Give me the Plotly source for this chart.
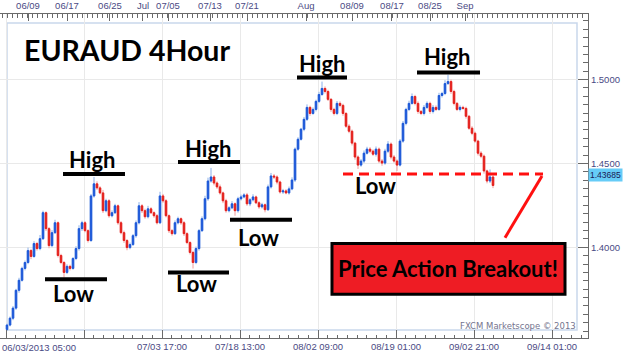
import plotly.graph_objects as go

# ---------------- data ----------------
first_open = 1.3510
closes = [
    1.3536, 1.3577, 1.3637, 1.3743, 1.3803, 1.3874, 1.3909, 1.3980, 1.3945, 1.4022,
    1.3992, 1.4051, 1.4206, 1.4111, 1.4010, 1.4087, 1.4146, 1.3951, 1.3909, 1.3850,
    1.3886, 1.3874, 1.3933, 1.3992, 1.4111, 1.4146, 1.4099, 1.4040, 1.4306, 1.4378,
    1.4354, 1.4324, 1.4218, 1.4277, 1.4188, 1.4206, 1.4247, 1.4146, 1.4087, 1.4040,
    1.3998, 1.4016, 1.4069, 1.4146, 1.4247, 1.4218, 1.4182, 1.4229, 1.4206, 1.4188,
    1.4146, 1.4306, 1.4277, 1.4188, 1.4099, 1.4081, 1.4146, 1.4170, 1.4146, 1.4081,
    1.4028, 1.3969, 1.3909, 1.3992, 1.4099, 1.4170, 1.4289, 1.4395, 1.4419, 1.4383,
    1.4360, 1.4324, 1.4277, 1.4218, 1.4235, 1.4259, 1.4218, 1.4289, 1.4300, 1.4312,
    1.4259, 1.4283, 1.4300, 1.4265, 1.4241, 1.4253, 1.4224, 1.4360, 1.4425, 1.4419,
    1.4389, 1.4330, 1.4336, 1.4324, 1.4348, 1.4401, 1.4585, 1.4644, 1.4704, 1.4763,
    1.4834, 1.4798, 1.4822, 1.4870, 1.4911, 1.4947, 1.4929, 1.4882, 1.4822, 1.4798,
    1.4858, 1.4846, 1.4798, 1.4722, 1.4692, 1.4621, 1.4538, 1.4490, 1.4514, 1.4561,
    1.4585, 1.4573, 1.4555, 1.4585, 1.4514, 1.4502, 1.4573, 1.4615, 1.4538, 1.4514,
    1.4490, 1.4633, 1.4739, 1.4822, 1.4858, 1.4899, 1.4858, 1.4810, 1.4798, 1.4834,
    1.4858, 1.4810, 1.4834, 1.4822, 1.4905, 1.4917, 1.4976, 1.4988, 1.4929, 1.4858,
    1.4822, 1.4834, 1.4828, 1.4781, 1.4710, 1.4680, 1.4633, 1.4561, 1.4543, 1.4455,
    1.4395, 1.4419, 1.43685,
]
# upper / lower wick lengths in pips
wick_up_pips = [
    8, 10, 12, 9, 15, 10, 12, 18, 10, 14,
    10, 22, 12, 8, 10, 15, 18, 8, 10, 9,
    12, 10, 8, 14, 20, 12, 10, 8, 12, 41,
    15, 10, 18, 12, 10, 14, 12, 8, 10, 12,
    9, 12, 10, 14, 22, 10, 12, 18, 10, 8,
    10, 25, 12, 10, 8, 10, 14, 12, 8, 10,
    9, 8, 10, 12, 10, 14, 18, 20, 54, 12,
    10, 14, 8, 12, 10, 16, 8, 12, 14, 10,
    12, 10, 16, 8, 10, 12, 8, 14, 18, 12,
    10, 8, 12, 10, 14, 16, 10, 12, 8, 14,
    18, 10, 12, 10, 16, 41, 12, 10, 8, 10,
    14, 12, 10, 8, 12, 10, 8, 10, 12, 16,
    14, 12, 10, 16, 10, 12, 14, 18, 10, 12,
    10, 12, 14, 10, 16, 18, 10, 12, 8, 14,
    12, 10, 14, 12, 16, 10, 20, 41, 12, 10,
    8, 12, 10, 10, 8, 12, 10, 8, 12, 10,
    8, 45, 10,
]
wick_down_pips = [
    10, 8, 12, 10, 14, 8, 12, 10, 16, 8,
    12, 10, 8, 14, 16, 10, 8, 12, 10, 30,
    10, 12, 8, 10, 12, 14, 10, 12, 8, 10,
    12, 8, 14, 10, 12, 10, 8, 12, 10, 14,
    16, 10, 8, 12, 10, 14, 12, 10, 8, 12,
    10, 8, 12, 10, 14, 12, 8, 10, 12, 14,
    10, 12, 36, 10, 12, 8, 10, 12, 10, 14,
    12, 10, 14, 12, 10, 8, 30, 12, 10, 8,
    12, 14, 10, 8, 12, 10, 16, 8, 10, 12,
    14, 10, 12, 8, 10, 8, 12, 10, 8, 12,
    10, 14, 8, 12, 10, 8, 12, 10, 14, 12,
    10, 12, 14, 10, 12, 14, 16, 23, 10, 12,
    8, 12, 10, 14, 12, 16, 10, 12, 14, 10,
    35, 8, 10, 12, 10, 8, 12, 14, 10, 12,
    10, 14, 12, 10, 8, 12, 10, 8, 14, 12,
    10, 12, 8, 14, 10, 12, 10, 14, 12, 16,
    14, 12, 16,
]
last_price = 1.43685

bottom_tick_labels = ["", "", "07/03 17:00", "07/18 13:00", "08/02 09:00",
                      "08/19 01:00", "09/02 21:00", "09/14 01:00"]
first_bottom_label = "06/03/2013 05:00"
top_tick_labels = ["06/09", "06/17", "06/25", "Jul", "07/05", "07/13", "07/21",
                   "Aug", "08/09", "08/17", "08/25", "Sep"]
top_tick_pos = [7, 20, 34.33, 45.33, 53.67, 67.67, 80, 99.67, 115, 128.33, 141, 152.67]
price_ticks = [1.40, 1.45, 1.50]

# ---------------- build OHLC ----------------
n = min(len(closes), len(wick_up_pips), len(wick_down_pips))
closes = closes[:n]
idx = list(range(n))
opens = [first_open] + closes[:-1]
body_hi = [max(o, c) for o, c in zip(opens, closes)]
body_lo = [min(o, c) for o, c in zip(opens, closes)]
highs = [h + u * 0.0001 for h, u in zip(body_hi, wick_up_pips[:n])]
lows = [l - d * 0.0001 for l, d in zip(body_lo, wick_down_pips[:n])]

BLUE = "#1d58d8"
RED = "#e4201c"
LBLUE = "#8ab0ea"
LRED = "#f29c9c"

fig = go.Figure()
fig.add_trace(go.Candlestick(
    x=idx, open=opens, high=highs, low=lows, close=closes,
    increasing=dict(line=dict(color=LBLUE, width=1), fillcolor=LBLUE),
    decreasing=dict(line=dict(color=LRED, width=1), fillcolor=LRED),
    whiskerwidth=0, showlegend=False, hoverinfo="skip"))
fig.add_trace(go.Candlestick(
    x=idx, open=opens, high=body_hi, low=body_lo, close=closes,
    increasing=dict(line=dict(color=BLUE, width=1), fillcolor=BLUE),
    decreasing=dict(line=dict(color=RED, width=1), fillcolor=RED),
    whiskerwidth=0, showlegend=False, hoverinfo="skip"))
fig.add_trace(go.Scatter(x=[0], y=[1.40], xaxis="x2", yaxis="y", mode="markers",
                         marker=dict(opacity=0), showlegend=False, hoverinfo="skip"))

xr = [-7 / 3, 581 / 3]
major_x = [-1 / 3 + 26 * i for i in range(8)]
tickfont = dict(family="Liberation Sans, Arial", size=9.5, color="#4a4a84")
AX = "#6a6a6a"

fig.update_layout(
    width=623, height=352,
    margin=dict(l=0, r=35, t=12, b=14),
    paper_bgcolor="white", plot_bgcolor="white",
    showlegend=False,
    xaxis=dict(range=xr, tickmode="array", tickvals=major_x, ticktext=bottom_tick_labels,
               ticks="inside", ticklen=8, tickcolor=AX, showline=True, linecolor=AX,
               linewidth=1, showgrid=True, gridcolor="#e9e9e9", zeroline=False,
               tickfont=tickfont, rangeslider=dict(visible=False), fixedrange=True,
               minor=dict(tickmode="linear", tick0=-1 / 3, dtick=26 / 8, ticks="inside",
                          ticklen=3, tickcolor=AX, showgrid=False)),
    xaxis2=dict(range=xr, overlaying="x", side="top", anchor="y", tickmode="array",
                tickvals=top_tick_pos, ticktext=top_tick_labels, ticks="inside",
                ticklen=7, tickcolor=AX, showline=True, linecolor=AX, linewidth=1,
                showgrid=False, zeroline=False, tickfont=tickfont, fixedrange=True,
                minor=dict(tickmode="linear", tick0=0, dtick=5 / 3, ticks="inside",
                           ticklen=4, tickcolor=AX, showgrid=False)),
    yaxis=dict(range=[1.34588, 1.5391], side="right", tickmode="array",
               tickvals=price_ticks, ticktext=[f"{v:.4f}" for v in price_ticks],
               ticks="inside", ticklen=10, tickcolor=AX, showline=True, linecolor=AX,
               linewidth=1, showgrid=True, gridcolor="#e9e9e9", zeroline=False,
               tickfont=tickfont, fixedrange=True,
               minor=dict(tickmode="linear", tick0=1.40, dtick=0.005, ticks="inside",
                          ticklen=5, tickcolor=AX, showgrid=False)),
)

shapes = []
# inner light-blue frame
shapes.append(dict(type="rect", xref="paper", yref="paper",
                   x0=7 / 588, x1=577 / 588, y0=8 / 326, y1=317 / 326,
                   line=dict(color="#c9d7ec", width=1.5), layer="below"))

def hline(x0, x1, y, color="black", width=4, dash=None):
    d = dict(type="line", xref="x", yref="y", x0=x0, x1=x1, y0=y, y1=y,
             line=dict(color=color, width=width), layer="above")
    if dash:
        d["line"]["dash"] = dash
    shapes.append(d)

# High lines
hline(18.67, 39.33, 1.4437)
hline(57.0, 77.67, 1.4508)
hline(96.67, 113.33, 1.5012)
hline(136.67, 157.67, 1.5042)
# Low lines
hline(12.67, 33.33, 1.3809)
hline(53.67, 74.0, 1.3850)
hline(74.33, 95.0, 1.4164)
# red dashed support line
hline(112.0, 178.67, 1.4437, color="#ff1010", width=3, dash="10px,6px")
# red diagonal
shapes.append(dict(type="line", xref="x", yref="y", x0=166.0, y0=1.4057, x1=178.33,
                   y1=1.4425, line=dict(color="#ff1010", width=3), layer="above"))
# red box
shapes.append(dict(type="rect", xref="x", yref="y", x0=108.33, x1=186.0, y0=1.3720,
                   y1=1.4022, fillcolor="#ee1c24", line=dict(color="black", width=3),
                   layer="above"))
fig.update_layout(shapes=shapes)

BIG = dict(family="Lato, Liberation Sans", size=22, color="black", weight="bold")
anns = []
def label(text, x, y, font=BIG):
    anns.append(dict(text=text, x=x, y=y, xref="x", yref="y", showarrow=False,
                     font=font, xanchor="center", yanchor="middle"))

label("EURAUD 4Hour", 40.0, 1.5178, dict(family="Lato, Liberation Sans", size=28.5,
                                          color="black", weight="bold"))
label("High", 28.33, 1.4526)
label("High", 67.0, 1.4591)
label("High", 105.0, 1.5095)
label("High", 146.67, 1.5136)
label("Low", 22.0, 1.3726)
label("Low", 63.33, 1.3785)
label("Low", 83.67, 1.4057)
label("Low", 122.67, 1.4366)
label("Price Action Breakout!", 147.0, 1.3874)

anns.append(dict(text=first_bottom_label, xref="paper", yref="paper", x=0, y=0,
                 xanchor="left", yanchor="top", yshift=-2, showarrow=False,
                 font=tickfont))
anns.append(dict(text="FXCM Marketscope © 2013", xref="paper", yref="paper",
                 x=578 / 588, y=12 / 326, xanchor="right", yanchor="middle",
                 showarrow=False, font=dict(family="DejaVu Sans", size=8.5,
                                            color="#74748e")))
anns.append(dict(text=f"{last_price:.5f}", xref="paper", yref="y", x=1, y=last_price,
                 xanchor="left", yanchor="middle", xshift=0, yshift=10,
                 showarrow=False, bgcolor="#66ccf7", borderpad=1,
                 font=dict(family="Liberation Sans, Arial", size=8.5, color="#1a1a55")))
fig.update_layout(annotations=anns)

fig.write_html("out.html")
